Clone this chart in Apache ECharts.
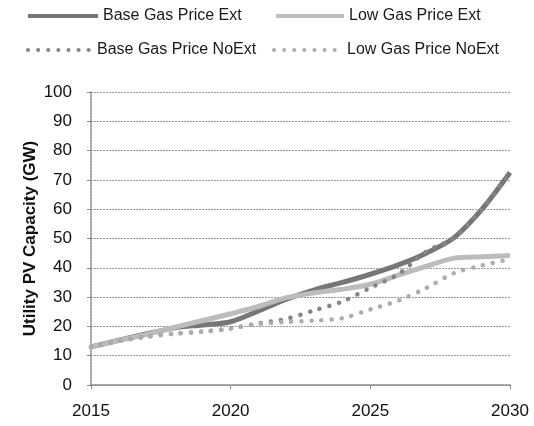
<!DOCTYPE html>
<html>
<head>
<meta charset="utf-8">
<script src="https://cdn.jsdelivr.net/npm/echarts@6/dist/echarts.min.js"></script>
<style>
    html, body {margin: 0; padding: 0; background: #fff;}
    #chart {width: 534px; height: 426px;}
</style>
</head>
<body>
<div id="chart"></div>
<script>
// data (GW)
var years = [2015, 2016, 2017, 2018, 2019, 2020, 2021, 2022, 2023, 2024, 2025, 2026, 2027, 2028, 2029, 2030];
var baseExt = [13, 15.3, 17.5, 19.5, 20.5, 21.6, 25.3, 29.3, 32.5, 35, 37.8, 41, 45, 50.3, 60, 72.5];
var lowExt = [13, 15.2, 17.3, 19.7, 22, 24.3, 26.8, 29.8, 31.5, 32.7, 34.4, 37.5, 40.5, 43.3, 43.8, 44.2];
var baseNoExt = [13, 15, 16.5, 17.5, 18.2, 19.3, 21, 22.6, 25.5, 28.5, 33.2, 37.8, 45.5, 50.3, 60, 72.5];
var lowNoExt = [13, 15, 16.5, 17.5, 18.2, 19.3, 20.8, 21.5, 22, 22.8, 25.8, 28.8, 33.1, 38.2, 40.8, 43];
var names = ['Base Gas Price Ext', 'Low Gas Price Ext', 'Base Gas Price NoExt', 'Low Gas Price NoExt'];
var yTicks = [0, 10, 20, 30, 40, 50, 60, 70, 80, 90, 100];

function pairs(vals) {
    return years.map(function (y, i) {
        return [y, vals[i]];
    });
}

var myChart = echarts.init(document.getElementById('chart'));

var legendText = {fontSize: 16, color: '#1a1a1a', fontFamily: 'Liberation Sans'};

function legendAt(name, left, top, w, lw) {
    return {
        data: [name],
        left: left,
        top: top,
        itemWidth: w,
        itemHeight: 10,
        itemGap: 0,
        textStyle: legendText,
        itemStyle: {opacity: 0}, // hide the marker, keep the line sample
        lineStyle: {width: lw},
        padding: 0
    };
}

var option = {
    animation: false,
    backgroundColor: '#fff',
    textStyle: {fontFamily: 'Liberation Sans'},
    legend: [
        legendAt(names[0], 26, 8, 70, 4),
        legendAt(names[1], 274, 8, 68, 4),
        legendAt(names[2], 26, 42, 64, 4),
        legendAt(names[3], 272, 42, 68, 4)
    ],
    grid: {left: 91, right: 24, top: 92, bottom: 41},
    xAxis: {
        type: 'value',
        min: 2015,
        max: 2030,
        interval: 5,
        axisLine: {lineStyle: {color: '#8a8a8a', width: 1.5, type: [2, 1]}},
        axisTick: {show: true, inside: false, length: 4, lineStyle: {color: '#8a8a8a'}},
        axisLabel: {fontSize: 17, color: '#111', margin: 18, formatter: function (v) { return String(v); }},
        splitLine: {show: false}
    },
    yAxis: {
        type: 'value',
        min: yTicks[0],
        max: yTicks[yTicks.length - 1],
        interval: 10,
        name: 'Utility PV Capacity (GW)',
        nameLocation: 'middle',
        nameGap: 52,
        nameMoveOverlap: false,
        nameTextStyle: {fontSize: 17, fontWeight: 'bold', color: '#111'},
        axisLine: {show: true, lineStyle: {color: '#8a8a8a', width: 1.5, type: [2, 1]}},
        axisTick: {show: true, length: 4, lineStyle: {color: '#8a8a8a'}},
        axisLabel: {fontSize: 17, color: '#111', margin: 19},
        splitLine: {show: true, lineStyle: {color: '#9a9a9a', width: 1, type: [2, 1]}}
    },
    series: [
        {
            name: names[0],
            type: 'line',
            data: pairs(baseExt),
            smooth: 0.3,
            symbol: 'none',
            color: '#767676',
            lineStyle: {color: '#767676', width: 5}
        },
        {
            name: names[1],
            type: 'line',
            data: pairs(lowExt),
            smooth: 0.3,
            symbol: 'none',
            color: '#bcbcbc',
            lineStyle: {color: '#bcbcbc', width: 5}
        },
        {
            name: names[2],
            type: 'line',
            data: pairs(baseNoExt),
            smooth: 0.3,
            symbol: 'none',
            color: '#858585',
            lineStyle: {color: '#858585', width: 4.5, type: [0.1, 10], cap: 'round'}
        },
        {
            name: names[3],
            type: 'line',
            data: pairs(lowNoExt),
            smooth: 0.3,
            symbol: 'none',
            color: '#adadad',
            lineStyle: {color: '#adadad', width: 4.5, type: [0.1, 10], cap: 'round'}
        }
    ]
};

myChart.setOption(option);
</script>
</body>
</html>
